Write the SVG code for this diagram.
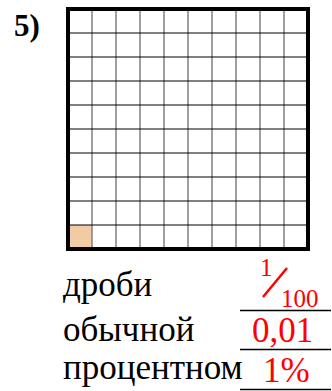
<svg xmlns="http://www.w3.org/2000/svg" width="332" height="391" viewBox="0 0 332 391">
<style>
.lbl{font-family:'Liberation Serif','Times New Roman',Times,'DejaVu Serif',serif;font-size:35px;fill:#000}
.ans{font-family:'Liberation Serif','Times New Roman',Times,'DejaVu Serif',serif;fill:#ff0000}
.num{font-family:'Liberation Serif','Times New Roman',Times,'DejaVu Serif',serif;font-weight:bold;font-size:31px}
.v{stroke:#808080;stroke-width:1.5}
.h{stroke:#000;stroke-width:1}
.ul{stroke:#000;stroke-width:1.3}
</style>
<rect width="332" height="391" fill="#fff"/>
<text id="num" class="num" x="14" y="36">5)</text>
<g id="grid">
<rect x="68" y="225" width="24" height="24" fill="#F2CBA4"/>
<g class="v">
<line x1="92" y1="9" x2="92" y2="249"/><line x1="116" y1="9" x2="116" y2="249"/><line x1="140" y1="9" x2="140" y2="249"/><line x1="164" y1="9" x2="164" y2="249"/><line x1="188" y1="9" x2="188" y2="249"/><line x1="212" y1="9" x2="212" y2="249"/><line x1="236" y1="9" x2="236" y2="249"/><line x1="260" y1="9" x2="260" y2="249"/><line x1="284" y1="9" x2="284" y2="249"/>
</g>
<g class="h">
<line x1="68" y1="33" x2="308" y2="33"/><line x1="68" y1="57" x2="308" y2="57"/><line x1="68" y1="81" x2="308" y2="81"/><line x1="68" y1="105" x2="308" y2="105"/><line x1="68" y1="129" x2="308" y2="129"/><line x1="68" y1="153" x2="308" y2="153"/><line x1="68" y1="177" x2="308" y2="177"/><line x1="68" y1="201" x2="308" y2="201"/><line x1="68" y1="225" x2="308" y2="225"/>
</g>
<rect x="68" y="9" width="240" height="240" fill="none" stroke="#000" stroke-width="4"/>
</g>
<g id="labels">
<text class="lbl" x="63" y="296">дроби</text>
<text class="lbl" x="63" y="341">обычной</text>
<text class="lbl" x="63" y="379">процентном</text>
</g>
<g id="answers">
<g id="frac">
<text class="ans" x="260" y="276" font-size="25">1</text>
<line x1="263" y1="297" x2="287" y2="268" stroke="#ff0000" stroke-width="2.5"/>
<text class="ans" x="281" y="307" font-size="25">100</text>
</g>
<text class="ans" x="252" y="342" font-size="35">0,01</text>
<text class="ans" x="263" y="382" font-size="35">1%</text>
</g>
<g id="underlines" class="ul">
<line x1="240" y1="310.5" x2="331" y2="310.5"/>
<line x1="240" y1="349.5" x2="331" y2="349.5"/>
<line x1="240" y1="389.5" x2="331" y2="389.5"/>
</g>
</svg>
